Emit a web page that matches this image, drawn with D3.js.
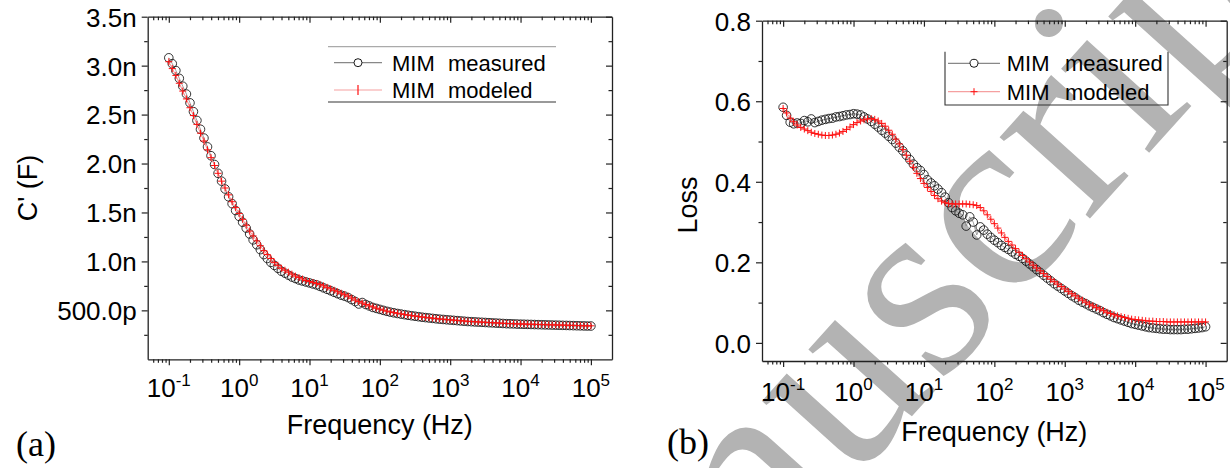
<!DOCTYPE html>
<html>
<head>
<meta charset="utf-8">
<script src="https://cdn.jsdelivr.net/npm/d3@7"></script>
<style>
body{margin:0;background:#fff;}
svg text{font-family:"Liberation Sans",Arial,sans-serif;fill:#000;}
</style>
</head>
<body>
<script>
// frequency sweep (Hz), shared by both panels
const freq=[0.1,0.112,0.126,0.141,0.158,0.178,0.2,0.224,0.251,0.282,0.316,0.355,0.398,0.447,0.501,0.562,0.631,0.708,0.794,0.891,
1,1.12,1.26,1.41,1.58,1.78,2,2.24,2.51,2.82,3.16,3.55,3.98,4.47,5.01,5.62,6.31,7.08,7.94,8.91,
10,11.2,12.6,14.1,15.8,17.8,20,22.4,25.1,28.2,31.6,35.5,39.8,44.7,50.1,56.2,63.1,70.8,79.4,89.1,
100,112,126,141,158,178,200,224,251,282,316,355,398,447,501,562,631,708,794,891,
1000,1120,1260,1410,1580,1780,2000,2240,2510,2820,3160,3550,3980,4470,5010,5620,6310,7080,7940,8910,
10000,11200,12600,14100,15800,17800,20000,22400,25100,28200,31600,35500,39800,44700,50100,56200,63100,70800,79400,89100,
100000];

// panel (a): C' in nF
const capMeasured=[3.08,3.02,2.95,2.87,2.79,2.71,2.62,2.53,2.44,2.35,2.26,2.17,2.08,1.99,1.90,1.82,1.74,1.66,1.59,1.52,
1.46,1.40,1.34,1.28,1.22,1.17,1.12,1.07,1.03,0.99,0.96,0.93,0.90,0.88,0.86,0.84,0.825,0.81,0.80,0.79,
0.78,0.77,0.76,0.745,0.73,0.715,0.70,0.685,0.67,0.655,0.645,0.63,0.61,0.59,0.565,0.58,0.56,0.545,0.53,0.52,
0.51,0.50,0.49,0.482,0.475,0.468,0.462,0.456,0.45,0.445,0.44,0.435,0.43,0.426,0.422,0.418,0.414,0.41,0.407,0.404,
0.401,0.398,0.395,0.392,0.389,0.386,0.384,0.382,0.380,0.378,0.376,0.374,0.372,0.370,0.368,0.366,0.364,0.363,0.362,0.360,
0.359,0.358,0.357,0.356,0.355,0.354,0.353,0.352,0.351,0.350,0.349,0.348,0.347,0.346,0.345,0.344,0.343,0.342,0.341,0.340,
0.340];
const capModeled=[3.04,2.97,2.90,2.82,2.74,2.66,2.57,2.49,2.40,2.31,2.23,2.14,2.06,1.98,1.90,1.82,1.75,1.68,1.61,1.55,
1.49,1.43,1.37,1.31,1.26,1.21,1.16,1.11,1.07,1.03,0.99,0.96,0.93,0.91,0.89,0.87,0.85,0.835,0.82,0.805,
0.795,0.785,0.775,0.765,0.75,0.735,0.72,0.705,0.69,0.675,0.66,0.645,0.625,0.605,0.59,0.575,0.56,0.545,0.535,0.522,
0.512,0.502,0.492,0.484,0.477,0.47,0.464,0.458,0.452,0.447,0.442,0.437,0.432,0.428,0.424,0.42,0.416,0.412,0.409,0.406,
0.403,0.400,0.397,0.394,0.391,0.388,0.386,0.384,0.382,0.380,0.378,0.376,0.374,0.372,0.370,0.368,0.366,0.365,0.364,0.362,
0.361,0.360,0.359,0.358,0.357,0.356,0.355,0.354,0.353,0.352,0.351,0.350,0.349,0.348,0.347,0.346,0.345,0.344,0.343,0.342,
0.342];

// panel (b): loss
const lossMeasured=[0.585,0.565,0.548,0.544,0.546,0.545,0.552,0.549,0.556,0.547,0.550,0.553,0.555,0.557,0.558,0.561,0.562,0.564,0.566,0.567,
0.569,0.568,0.566,0.561,0.556,0.550,0.543,0.536,0.528,0.521,0.513,0.505,0.496,0.486,0.477,0.466,0.455,0.444,0.435,0.428,
0.418,0.405,0.397,0.390,0.382,0.373,0.362,0.348,0.336,0.328,0.322,0.318,0.290,0.313,0.300,0.268,0.288,0.280,0.270,0.262,
0.255,0.249,0.242,0.237,0.232,0.226,0.220,0.215,0.210,0.203,0.196,0.189,0.182,0.175,0.168,0.161,0.154,0.147,0.141,0.135,
0.129,0.123,0.117,0.112,0.106,0.101,0.097,0.092,0.088,0.084,0.080,0.075,0.071,0.067,0.063,0.060,0.057,0.054,0.051,0.048,
0.046,0.044,0.042,0.040,0.038,0.037,0.036,0.035,0.034,0.034,0.033,0.033,0.033,0.033,0.034,0.034,0.035,0.036,0.037,0.038,
0.040];
const lossModeled=[0.582,0.571,0.558,0.549,0.541,0.535,0.531,0.527,0.523,0.520,0.518,0.516,0.515,0.515,0.516,0.518,0.521,0.525,0.530,0.536,
0.542,0.547,0.551,0.554,0.556,0.557,0.555,0.551,0.545,0.538,0.528,0.518,0.506,0.494,0.480,0.466,0.451,0.436,0.421,0.408,
0.396,0.386,0.376,0.366,0.358,0.352,0.348,0.346,0.345,0.345,0.345,0.345,0.345,0.344,0.343,0.341,0.336,0.328,0.318,0.307,
0.296,0.285,0.273,0.262,0.252,0.243,0.234,0.225,0.217,0.209,0.201,0.193,0.186,0.179,0.172,0.165,0.158,0.152,0.146,0.140,
0.134,0.128,0.122,0.117,0.111,0.106,0.101,0.096,0.092,0.088,0.084,0.080,0.076,0.073,0.070,0.067,0.065,0.063,0.061,0.059,
0.058,0.057,0.056,0.055,0.054,0.054,0.053,0.053,0.053,0.052,0.052,0.052,0.052,0.052,0.052,0.052,0.052,0.052,0.052,0.052,
0.052];

const xMajor=[0.1,1,10,100,1000,10000,100000];
const capTicks=[0.5,1,1.5,2,2.5,3,3.5];
const capMinor=[0.25,0.75,1.25,1.75,2.25,2.75,3.25];
const lossTicks=[0,0.2,0.4,0.6,0.8];
const lossMinor=[0.1,0.3,0.5,0.7];
const seriesNames=["measured","modeled"];

const w=1230, h=468;
const svg=d3.select("body").append("svg").attr("width",w).attr("height",h);

// watermark behind the charts
svg.append("text")
   .attr("transform","translate(525,846) rotate(-48)")
   .style("font-family","'Liberation Serif','Times New Roman',serif")
   .style("font-size","265px")
   .style("fill","#b3b3b3")
   .text("Manuscript");

const xDomain=[Math.pow(10,-1.3),Math.pow(10,5.3)];
const xMinor=[];
for(let e=-2;e<=5;e++){
    for(let k=2;k<=9;k++){
        const v=k*Math.pow(10,e);
        if(v>=xDomain[0] && v<=xDomain[1]) xMinor.push(v);
    }
}

const plus="M-3.5,0H3.5M0,-3.5V3.5";

function styleAxis(g){
    g.select(".domain").attr("stroke","#222").attr("stroke-width",1.3);
    g.selectAll(".tick line").attr("stroke","#222").attr("stroke-width",1.2);
    g.attr("font-family",null).attr("font-size",null);
}

function drawPanel(p){
    const g=svg.append("g");
    const x=d3.scaleLog().domain(xDomain).range([p.left,p.right]);
    const y=d3.scaleLinear().domain(p.yDomain).range([p.bottom,p.top]);

    // bottom axis
    g.append("g").attr("transform",`translate(0,${p.bottom})`)
     .call(d3.axisBottom(x).tickValues(xMajor).tickSize(6).tickSizeOuter(0).tickFormat(""))
     .call(styleAxis);
    g.append("g").attr("transform",`translate(0,${p.bottom})`)
     .call(d3.axisBottom(x).tickValues(xMinor).tickSize(3.5).tickSizeOuter(0).tickFormat(""))
     .call(styleAxis).select(".domain").remove();
    // top axis, ticks inward
    g.append("g").attr("transform",`translate(0,${p.top})`)
     .call(d3.axisTop(x).tickValues(xMajor).tickSize(-6).tickSizeOuter(0).tickFormat(""))
     .call(styleAxis);
    g.append("g").attr("transform",`translate(0,${p.top})`)
     .call(d3.axisTop(x).tickValues(xMinor).tickSize(-3.5).tickSizeOuter(0).tickFormat(""))
     .call(styleAxis).select(".domain").remove();
    // left axis
    const left=g.append("g").attr("transform",`translate(${p.left},0)`)
     .call(d3.axisLeft(y).tickValues(p.yTicks).tickSize(6).tickPadding(5).tickSizeOuter(0).tickFormat(p.yFormat))
     .call(styleAxis);
    left.selectAll(".tick text").style("font-size","26px").attr("dy","0.36em");
    g.append("g").attr("transform",`translate(${p.left},0)`)
     .call(d3.axisLeft(y).tickValues(p.yMinor).tickSize(3.5).tickSizeOuter(0).tickFormat(""))
     .call(styleAxis).select(".domain").remove();
    // right axis, ticks inward
    g.append("g").attr("transform",`translate(${p.right},0)`)
     .call(d3.axisRight(y).tickValues(p.yTicks).tickSize(-6).tickSizeOuter(0).tickFormat(""))
     .call(styleAxis);
    g.append("g").attr("transform",`translate(${p.right},0)`)
     .call(d3.axisRight(y).tickValues(p.yMinor).tickSize(-3.5).tickSizeOuter(0).tickFormat(""))
     .call(styleAxis).select(".domain").remove();

    // x tick labels 10^n
    const lab=g.selectAll(".xlab").data(xMajor).join("text")
       .attr("class","xlab")
       .attr("x",d=>x(d))
       .attr("y",p.xLabelY)
       .attr("text-anchor","middle");
    lab.append("tspan").style("font-size","26px").text("10");
    lab.append("tspan").style("font-size","17px").attr("dy",-11).text(d=>Math.round(Math.log10(d)));

    // titles
    g.append("text").attr("x",(p.left+p.right)/2).attr("y",p.xTitleY)
     .attr("text-anchor","middle").style("font-size","27px").text("Frequency (Hz)");
    g.append("text").attr("transform",`translate(${p.yTitleX},${p.yTitleY}) rotate(-90)`)
     .attr("text-anchor","middle").style("font-size","27px").text(p.yTitle);
    g.append("text").attr("x",p.tagX).attr("y",p.tagY)
     .style("font-family","'Liberation Serif','Times New Roman',serif")
     .style("font-size","36px").text(p.tag);

    // measured: gray line + open circles
    const line=d3.line().x((d,i)=>x(freq[i])).y(d=>y(d));
    g.append("path").datum(p.measured).attr("d",line)
     .attr("fill","none").attr("stroke","#888").attr("stroke-width",0.8);
    g.selectAll(".meas").data(p.measured).join("circle")
     .attr("class","meas")
     .attr("cx",(d,i)=>x(freq[i])).attr("cy",d=>y(d)).attr("r",4.3)
     .attr("fill","none").attr("stroke","#111").attr("stroke-width",0.85);
    // modeled: light red line + red crosses
    g.append("path").datum(p.modeled).attr("d",line)
     .attr("fill","none").attr("stroke","#f58a8a").attr("stroke-width",1);
    g.selectAll(".mod").data(p.modeled).join("path")
     .attr("class","mod")
     .attr("transform",(d,i)=>`translate(${x(freq[i])},${y(d)})`)
     .attr("d",plus).attr("fill","none").attr("stroke","#ff1010").attr("stroke-width",1);

    // legend
    const lg=g.append("g");
    if(p.legendBox==="lines"){
        lg.append("line").attr("x1",p.lg.x0).attr("x2",p.lg.x1).attr("y1",p.lg.y0).attr("y2",p.lg.y0)
          .attr("stroke","#aaa").attr("stroke-width",1.2);
        lg.append("line").attr("x1",p.lg.x0).attr("x2",p.lg.x1).attr("y1",p.lg.y1).attr("y2",p.lg.y1)
          .attr("stroke","#777").attr("stroke-width",1.3);
    } else {
        lg.append("path").attr("d",`M${p.lg.x0},${p.lg.y0}V${p.lg.y1}H${p.lg.x1}V${p.lg.y0}`)
          .attr("fill","none").attr("stroke","#333").attr("stroke-width",1.1);
    }
    seriesNames.forEach((name,i)=>{
        const ry=p.lg.rows[i];
        lg.append("line").attr("x1",p.lg.s0).attr("x2",p.lg.s1).attr("y1",ry).attr("y2",ry)
          .attr("stroke",i===0?"#888":"#f5a0a0").attr("stroke-width",1.2);
        const mx=(p.lg.s0+p.lg.s1)/2;
        if(i===0){
            lg.append("circle").attr("cx",mx).attr("cy",ry).attr("r",4)
              .attr("fill","#fff").attr("stroke","#000").attr("stroke-width",0.9);
        } else if(p.legendBox==="lines"){
            lg.append("line").attr("x1",mx).attr("x2",mx).attr("y1",ry-5).attr("y2",ry+5)
              .attr("stroke","#ff1010").attr("stroke-width",1.2);
        } else {
            lg.append("path").attr("transform",`translate(${mx},${ry})`).attr("d",plus)
              .attr("fill","none").attr("stroke","#ff1010").attr("stroke-width",1);
        }
        lg.append("text").attr("x",p.lg.t0).attr("y",ry).attr("dy","0.36em")
          .style("font-size","22px").text("MIM");
        lg.append("text").attr("x",p.lg.t1).attr("y",ry).attr("dy","0.36em")
          .style("font-size","22px").text(name);
    });
}

drawPanel({
    left:147.7,right:612,top:16.7,bottom:359.3,
    yDomain:[0,3.5],yTicks:capTicks,yMinor:capMinor,
    yFormat:d=>d>=1?d.toFixed(1)+"n":(d*1000).toFixed(1)+"p",
    measured:capMeasured,modeled:capModeled,
    xLabelY:397,xTitleY:434,yTitle:"C' (F)",yTitleX:37,yTitleY:188,
    tag:"(a)",tagX:16,tagY:456,
    legendBox:"lines",
    lg:{x0:328,x1:556,y0:46.7,y1:102,rows:[62.7,90],s0:334,s1:382,t0:392,t1:448}
});
drawPanel({
    left:762,right:1226.7,top:20.7,bottom:361,
    yDomain:[-0.045,0.8],yTicks:lossTicks,yMinor:lossMinor,
    yFormat:d3.format(".1f"),
    measured:lossMeasured,modeled:lossModeled,
    xLabelY:401,xTitleY:441,yTitle:"Loss",yTitleX:697,yTitleY:205,
    tag:"(b)",tagX:667,tagY:454,
    legendBox:"box",
    lg:{x0:945,x1:1168,y0:51.7,y1:105,rows:[63.3,91.7],s0:948,s1:1000,t0:1006.7,t1:1065}
});
</script>
</body>
</html>
